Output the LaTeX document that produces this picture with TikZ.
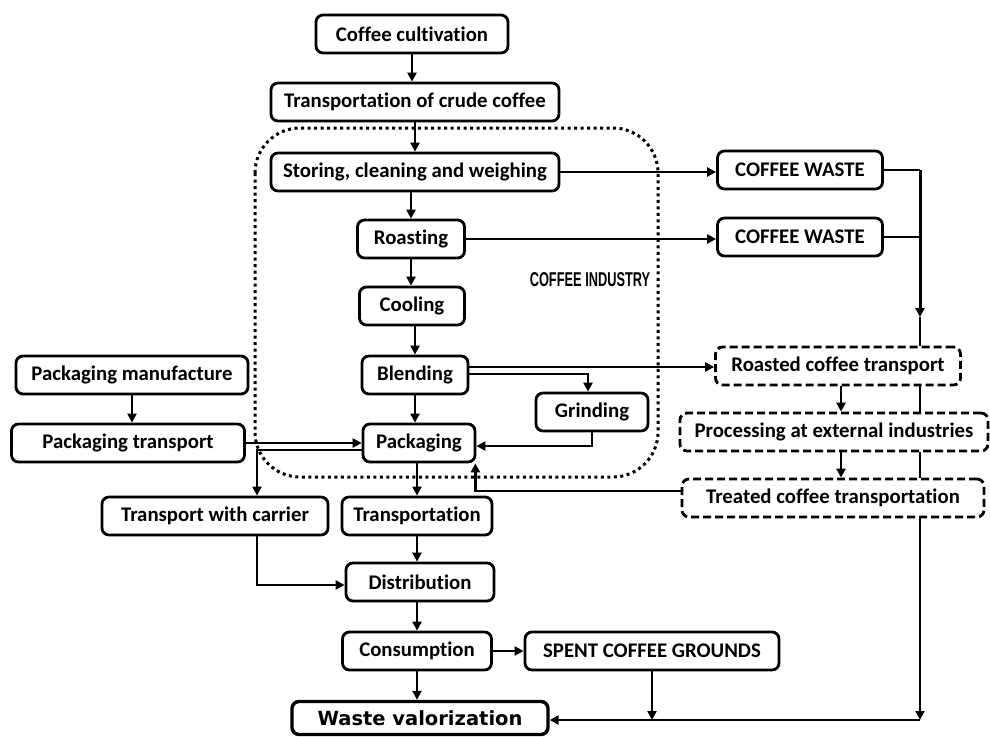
\documentclass[tikz,border=0pt]{standalone}
\usepackage{fontspec}
\setmainfont{Carlito}[Ligatures=NoCommon]
\newfontfamily\valfont{DejaVu Sans}
\newfontfamily\indfont[FakeStretch=0.64]{Liberation Sans}
\usetikzlibrary{calc,positioning,arrows.meta}

\tikzset{
  stage/.style={draw,line width=2.8pt,rounded corners=7pt,fill=white,minimum height=38pt,inner sep=0pt,font=\fontsize{20.8}{24}\selectfont\bfseries},
  extstage/.style={stage,dash pattern=on 8pt off 4pt},
  flow/.style={line width=2.4pt,-{Triangle[length=9pt,width=9pt]}},
  link/.style={line width=2.4pt},
}

\begin{document}
\begin{tikzpicture}[x=1pt,y=-1pt]
\useasboundingbox (0,0) rectangle (990,736);

\draw[line width=3pt,dash pattern=on 3pt off 3.5pt,rounded corners=45pt] (255,128) rectangle (658,477);
\node[font=\indfont\fontsize{20}{23}\selectfont\bfseries] (ind) at (590,280) {COFFEE INDUSTRY};

\node[stage,minimum width=192pt] (cult) at (412,34) {Coffee cultivation};
\node[stage,minimum width=288pt] (crude) at (415,102) {Transportation of crude coffee};
\node[stage,minimum width=288pt] (store) at (415,172) {Storing, cleaning and weighing};
\node[stage,minimum width=107pt] (roast) at (411,239) {Roasting};
\node[stage,minimum width=105pt] (cool) at (412,306) {Cooling};
\node[stage,minimum width=106pt] (blend) at (415,375) {Blending};
\node[stage,minimum width=112pt] (pack) at (419,443) {Packaging};
\node[stage,minimum width=112pt] (grind) at (592,412) {Grinding};
\node[stage,minimum width=232pt] (pman) at (132,375) {Packaging manufacture};
\node[stage,minimum width=233pt] (ptran) at (128,443) {Packaging transport};
\node[stage,minimum width=226pt] (carrier) at (215,516) {Transport with carrier};
\node[stage,minimum width=150pt] (trans) at (417,516) {Transportation};
\node[stage,minimum width=148pt] (distr) at (420,582) {Distribution};
\node[stage,minimum width=149pt] (cons) at (417,651) {Consumption};
\node[stage,minimum width=254pt] (spent) at (652,651) {SPENT COFFEE GROUNDS};
\node[stage,minimum width=165pt] (waste1) at (800,170) {COFFEE WASTE};
\node[stage,minimum width=165pt] (waste2) at (800,237) {COFFEE WASTE};
\node[extstage,minimum width=245pt] (roasted) at (838,366) {Roasted coffee transport};
\node[extstage,minimum width=308pt] (proc) at (834,432) {Processing at external industries};
\node[extstage,minimum width=302pt] (treat) at (833,498) {Treated coffee transportation};
\node[stage,line width=3.4pt,minimum width=256pt,minimum height=33pt,font=\valfont\fontsize{19.5}{23}\selectfont\bfseries] (valor) at (420,718) {Waste valorization};

\coordinate (jm) at (920,317);
\coordinate (jb) at (920,720);

\draw[flow] (cult.south) -- (cult.south |- crude.north);
\draw[flow] (crude.south) -- (crude.south |- store.north);
\draw[flow] (roast.north |- store.south) -- (roast.north);
\draw[flow] (roast.south) -- (roast.south |- cool.north);
\draw[flow] (blend.north |- cool.south) -- (blend.north);
\draw[flow] (blend.south) -- (blend.south |- pack.north);
\draw[flow] (trans.north |- pack.south) -- (trans.north);
\draw[flow] (trans.south) -- (trans.south |- distr.north);
\draw[flow] (cons.north |- distr.south) -- (cons.north);
\draw[flow] (cons.south) -- (cons.south |- valor.north);
\draw[flow] (pman.south) -- (pman.south |- ptran.north);

\draw[flow] (store.east) -- (store.east -| waste1.west);
\draw[flow] (roast.east) -- (roast.east -| waste2.west);
\draw[link] (waste1.east) -- (waste1.east -| jm);
\draw[link] (waste2.east) -- (waste2.east -| jm);
\draw[flow,line width=3pt] (waste1.east -| jm) -- (jm);
\draw[link] (jm) -- (jm |- roasted.north);
\draw[link] (jm |- roasted.south) -- (jm |- proc.north);
\draw[link] (jm |- proc.south) -- (jm |- treat.north);
\draw[flow] (jm |- treat.south) -- (jb);
\draw[flow] (jb) -- (jb -| valor.east);
\draw[flow] (spent.south) -- (spent.south |- jb);
\draw[flow] (cons.east) -- (cons.east -| spent.west);

\draw[flow] ([yshift=8pt]blend.east) -- ([yshift=8pt]blend.east -| roasted.west);
\draw[flow] ([yshift=1pt]blend.east) -| ([xshift=-4pt]grind.north);
\draw[flow] (grind.south) |- ([yshift=-3pt]pack.east);
\draw[flow] ([yshift=7pt]treat.west) -| ([xshift=-1pt]pack.south east);
\draw[flow] (roasted.south -| 841,0) -- (proc.north -| 841,0);
\draw[flow] (proc.south -| 841,0) -- (treat.north -| 841,0);

\draw[flow] (ptran.east) -- (ptran.east -| pack.west);
\draw[flow] ([yshift=-7pt]pack.west) -| ([xshift=42pt]carrier.north);
\draw[flow] ([xshift=42pt]carrier.south) |- ([yshift=-3pt]distr.west);

\end{tikzpicture}
\end{document}
